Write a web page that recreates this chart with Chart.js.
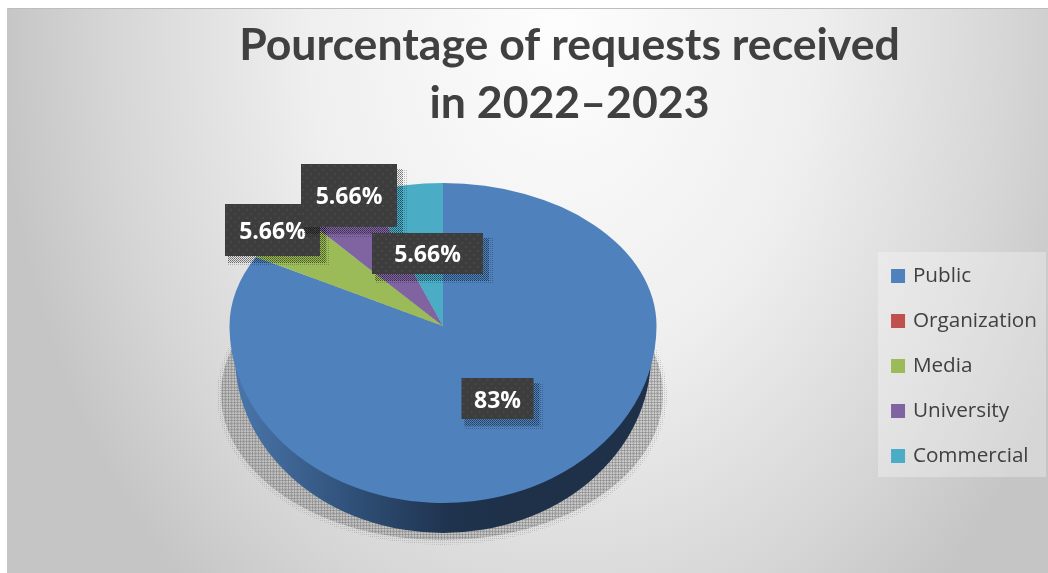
<!DOCTYPE html>
<html><head><meta charset="utf-8">
<style>html,body{margin:0;padding:0;background:#fff}canvas{display:block}</style>
<script src="https://cdn.jsdelivr.net/npm/chart.js@4"></script></head>
<body><canvas id="c" width="1048" height="573"></canvas>
<script>
const categories = ['Public','Organization','Media','University','Commercial'];
const percentValues = [83,0,5.66,5.66,5.66];
const sliceColors = ['#4f81bd','#c0504d','#9bbb59','#8064a2','#4bacc6'];
const titleLines = ['Pourcentage of requests received','in 2022\u20132023'];

// style: placement of the pie (perspective) and of the label boxes [cx, cy, w, h, textY]
const PIE = {x:443, y:326, rx:213.5, up:143, down:177, depth:30, sideRx:208};
const LABEL_BOX = {0:[497.5,398.5,72,41,401],2:[272.5,230,95,52,232],3:[349,195.5,96,63,197],4:[427.5,253.5,111,41,255]};

function tile(size, paint){
  const t=document.createElement('canvas');t.width=t.height=size;
  paint(t.getContext('2d'));return t;
}
const scene = {
  id:'scene',
  beforeDraw(chart){
    const c=chart.ctx;
    c.save();
    c.fillStyle='#fff';c.fillRect(0,0,1048,573);
    c.beginPath();c.rect(7,8,1041,565);c.clip();
    c.fillStyle='#c5c5c5';c.fillRect(7,8,1041,565);
    c.translate(560,30);c.scale(560,750);
    const g=c.createRadialGradient(0,0,0,0,0,1);
    g.addColorStop(0,'#fdfdfd');g.addColorStop(0.45,'#efefef');g.addColorStop(0.8,'#d6d6d6');g.addColorStop(1,'#c5c5c5');
    c.fillStyle=g;c.fillRect(-2,-2,4,4);
    c.restore();
    c.save();
    c.fillStyle='#bdbdbd';c.fillRect(7,8,1041,1);
    c.fillStyle='rgba(255,255,255,0.3)';c.fillRect(878,252,168,225);
    c.restore();
  },
  beforeDatasetsDraw(chart){
    const c=chart.ctx, meta=chart.getDatasetMeta(0), arc=meta.data[0];
    const R=arc.outerRadius, ax=arc.x, ay=arc.y;
    // hatched ground shadow
    const dense=c.createPattern(tile(3,p=>{p.fillStyle='rgba(140,140,140,0.3)';p.fillRect(0,0,3,3);p.fillStyle='rgba(125,125,125,0.45)';p.fillRect(0,0,3,1);p.fillRect(0,0,1,3);}),'repeat');
    const sparse=c.createPattern(tile(2,p=>{p.fillStyle='rgba(130,130,130,0.35)';p.fillRect(0,0,1,1);}),'repeat');
    c.save();
    c.fillStyle=sparse;c.beginPath();c.ellipse(442,395,225,150,0,0,2*Math.PI);c.fill();
    c.fillStyle=dense;c.beginPath();c.ellipse(442,394,221,146,0,0,2*Math.PI);c.fill();
    // side wall
    const side=c.createLinearGradient(PIE.x-PIE.sideRx,0,PIE.x+60,0);
    side.addColorStop(0,'#4a76ab');side.addColorStop(0.45,'#2f4f77');side.addColorStop(0.8,'#1f334e');side.addColorStop(1,'#1e3149');
    c.fillStyle=side;
    c.beginPath();
    c.ellipse(PIE.x,PIE.y+PIE.depth,PIE.sideRx,PIE.down,0,0,Math.PI);
    c.lineTo(PIE.x-PIE.sideRx,PIE.y);c.lineTo(PIE.x+PIE.sideRx,PIE.y);c.closePath();c.fill();
    c.restore();
    // top face: library arcs, squeezed into the perspective ellipse in two halves
    [[0,PIE.y,PIE.up],[PIE.y,573-PIE.y,PIE.down]].forEach(([top,h,ry])=>{
      c.save();
      c.beginPath();c.rect(0,top,1048,h);c.clip();
      c.translate(PIE.x,PIE.y);c.scale(PIE.rx/R,ry/R);c.translate(-ax,-ay);
      meta.controller.draw();
      c.restore();
    });
    return false;
  },
  afterDraw(chart){
    const c=chart.ctx;
    const shadow=c.createPattern(tile(2,p=>{p.fillStyle='rgba(0,0,0,0.4)';p.fillRect(0,0,1,1);p.fillRect(1,1,1,1);}),'repeat');
    const shadowFade=c.createPattern(tile(2,p=>{p.fillStyle='rgba(0,0,0,0.22)';p.fillRect(0,0,1,1);}),'repeat');
    const dots=c.createPattern(tile(8,p=>{p.fillStyle='#3d3d3d';p.fillRect(0,0,8,8);p.fillStyle='#474747';p.fillRect(1,1,2,2);p.fillRect(5,5,2,2);}),'repeat');
    chart.data.datasets[0].data.forEach((v,i)=>{
      const b=LABEL_BOX[i]; if(!v||!b) return;
      const x=b[0]-b[2]/2,y=b[1]-b[3]/2;
      c.save();
      c.fillStyle=shadowFade;c.fillRect(x+3,y+5,b[2]+7,b[3]+5);
      c.fillStyle=shadow;c.fillRect(x+3,y+5,b[2]+3,b[3]+2);
      c.fillStyle=dots;c.translate(x,y);c.fillRect(0,0,b[2],b[3]);c.translate(-x,-y);
      c.fillStyle='#fff';c.font='bold 23px "Open Sans"';c.textAlign='center';c.textBaseline='middle';
      c.fillText(v+'%',b[0],b[4]);
      c.restore();
    });
  }
};
new Chart(document.getElementById('c'),{
  type:'pie',
  data:{labels:categories,datasets:[{data:percentValues,backgroundColor:sliceColors,borderWidth:0}]},
  plugins:[scene],
  options:{
    responsive:false,animation:false,
    layout:{padding:{left:92,right:1,top:0,bottom:0}},
    plugins:{
      tooltip:{enabled:false},
      title:{display:true,text:titleLines,color:'#404040',align:'center',
        font:{family:'Lato',size:44.6,weight:'bold',lineHeight:1.3},
        padding:{top:17,bottom:108.5}},
      legend:{position:'right',align:'start',fullSize:false,
        labels:{color:'#404040',font:{family:'"Open Sans"',size:20.7},boxWidth:9,boxHeight:9,padding:24.3,
          generateLabels(ch){
            return Chart.overrides.pie.plugins.legend.labels.generateLabels(ch).map(l=>({...l,lineWidth:5,strokeStyle:l.fillStyle}));
          }}}
    }
  }
});
</script></body></html>
